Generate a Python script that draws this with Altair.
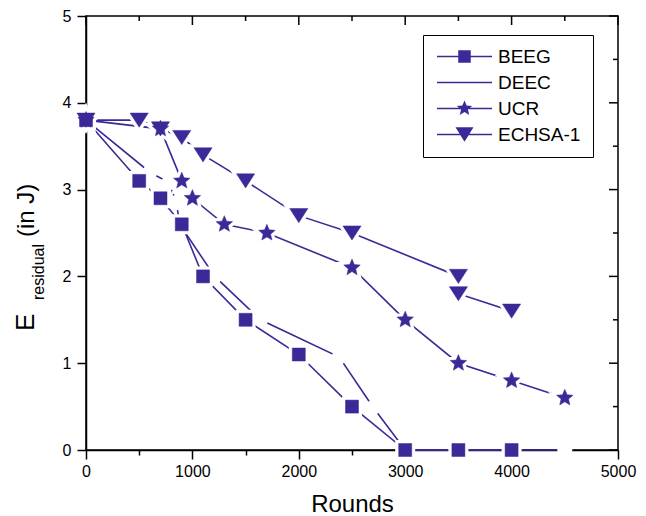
import math
import altair as alt
import pandas as pd

# Residual energy (J) of each protocol against simulation rounds
beeg_rounds = [0, 500, 700, 900, 1100, 1500, 2000, 2500, 3000, 3500, 4000]
beeg_energy = [3.8, 3.1, 2.9, 2.6, 2.0, 1.5, 1.1, 0.5, 0.0, 0.0, 0.0]

deec_rounds = [0, 600, 780, 850, 880, 1210, 1640, 2380, 2700, 3000, 3500, 4000, 4500]
deec_energy = [3.8, 3.2, 3.08, 2.85, 2.6, 2.0, 1.5, 1.07, 0.49, 0.0, 0.0, 0.0, 0.0]

ucr_rounds = [0, 700, 900, 1000, 1300, 1700, 2500, 3000, 3500, 4000, 4500]
ucr_energy = [3.8, 3.7, 3.1, 2.9, 2.6, 2.5, 2.1, 1.5, 1.0, 0.8, 0.6]

echsa_rounds = [0, 500, 700, 900, 1100, 1500, 2000, 2500, 3500, 3500, 4000]
echsa_energy = [3.8, 3.8, 3.7, 3.6, 3.4, 3.1, 2.7, 2.5, 2.0, 1.8, 1.6]

series_names = ["BEEG", "DEEC", "UCR", "ECHSA-1"]
x_ticks = [0, 500, 1000, 1500, 2000, 2500, 3000, 3500, 4000, 4500, 5000]
y_ticks = [0, 0.5, 1, 1.5, 2, 2.5, 3, 3.5, 4, 4.5, 5]

COLOR = "#3C2896"
FONT = "Liberation Sans"

rows = []
for name, xs, ys in [
    ("BEEG", beeg_rounds, beeg_energy),
    ("DEEC", deec_rounds, deec_energy),
    ("UCR", ucr_rounds, ucr_energy),
    ("ECHSA-1", echsa_rounds, echsa_energy),
]:
    for i, (xv, yv) in enumerate(zip(xs, ys)):
        rows.append({"series": name, "rounds": xv, "energy": yv, "idx": i})
df = pd.DataFrame(rows)


# Symbol outlines in Vega's unit square (-1..1)
def star_path(outer=1.0, inner=0.45):
    pts = []
    for k in range(10):
        a = -math.pi / 2 + k * math.pi / 5
        r = outer if k % 2 == 0 else inner
        pts.append(f"{r * math.cos(a):.3f},{r * math.sin(a):.3f}")
    return "M" + "L".join(pts) + "Z"


def tri_down_path(w=1.0, h=0.78):
    return f"M{-w},{-h}L{w},{-h}L0,{h}Z"


STAR = star_path()
TRI = tri_down_path()

# Legend glyphs: a thin bar (the line) with the series symbol in the middle
seg = "M-5.5,-0.16H5.5V0.16H-5.5Z"
legend_paths = [
    seg + "M-1.25,-1.25H1.25V1.25H-1.25Z",
    seg,
    seg + star_path(1.6, 0.72),
    seg + tri_down_path(1.8, 1.45),
]

major_x = "datum.value % 1000 === 0"
major_y = "datum.value % 1 === 0"

x_axis = alt.Axis(
    values=x_ticks,
    format="d",
    labelExpr=f"{major_x} ? datum.label : ''",
    tickSize={"condition": {"test": major_x, "value": 9}, "value": 5},
    tickColor="black",
    tickWidth=1.5,
    domainColor="black",
    domainWidth=1.5,
    labelFont=FONT,
    labelFontSize=16,
    labelColor="black",
    labelPadding=4,
    labelFlush=False,
    labelOverlap=False,
    grid=False,
    title="Rounds",
    titleFont=FONT,
    titleFontSize=24,
    titleFontWeight="normal",
    titleColor="black",
    titlePadding=13,
)
y_axis = alt.Axis(
    values=y_ticks,
    format="d",
    labelExpr=f"{major_y} ? datum.label : ''",
    tickSize={"condition": {"test": major_y, "value": 9}, "value": 5},
    tickColor="black",
    tickWidth=1.5,
    domainColor="black",
    domainWidth=1.5,
    labelFont=FONT,
    labelFontSize=16,
    labelColor="black",
    labelPadding=6,
    labelFlush=False,
    labelOverlap=False,
    grid=False,
    title=None,
)

x_scale = alt.Scale(domain=[0, 5000], nice=False, zero=False)
y_scale = alt.Scale(domain=[0, 5], nice=False, zero=False)


def X(field):
    return alt.X(field, scale=x_scale, axis=x_axis)


def Y(field):
    return alt.Y(field, scale=y_scale, axis=y_axis)


base = alt.Chart(df)


def series_line(name):
    return (
        base.transform_filter(alt.datum.series == name)
        .mark_line(color=COLOR, strokeWidth=1.6)
        .encode(x=X("rounds:Q"), y=Y("energy:Q"), order="idx:Q")
    )


def series_points(name, shape, size, halo=False):
    if halo:
        style = dict(fill="white", stroke="white", strokeWidth=7)
    else:
        style = dict(fill=COLOR, stroke=COLOR, strokeWidth=0.5)
    return (
        base.transform_filter(alt.datum.series == name)
        .mark_point(shape=shape, size=size, filled=True, opacity=1, **style)
        .encode(x=X("rounds:Q"), y=Y("energy:Q"))
    )


# DEEC: plain line broken around its (unmarked) data points
deec_line = series_line("DEEC")
deec_gaps = (
    base.transform_filter(alt.datum.series == "DEEC")
    .mark_point(shape="circle", size=230, filled=True, fill="white", opacity=1)
    .encode(x=X("rounds:Q"), y=Y("energy:Q"))
)

marked = [("BEEG", "square", 169), ("UCR", STAR, 300), ("ECHSA-1", TRI, 330)]
lines = [series_line(n) for n, _, _ in marked]
halos = [series_points(n, s, z, halo=True) for n, s, z in marked]
markers = [series_points(n, s, z) for n, s, z in marked]

legend_layer = (
    base.transform_filter("false")
    .mark_point(filled=True, fill=COLOR, size=100, opacity=1)
    .encode(
        x=X("rounds:Q"),
        y=Y("energy:Q"),
        shape=alt.Shape(
            "series:N",
            scale=alt.Scale(domain=series_names, range=legend_paths),
            legend=alt.Legend(
                title=None,
                orient="none",
                legendX=337,
                legendY=19,
                padding=12,
                strokeColor="black",
                fillColor="white",
                symbolSize=100,
                symbolStrokeWidth=0,
                symbolFillColor=COLOR,
                symbolOpacity=1,
                symbolOffset=20,
                labelOffset=24,
                labelFont=FONT,
                labelFontSize=19,
                labelColor="black",
                rowPadding=6,
            ),
        ),
    )
)

# Mirrored inward ticks along the top and right frame
xt = alt.Chart(pd.DataFrame({"v": x_ticks}))
yt = alt.Chart(pd.DataFrame({"v": y_ticks}))
top_major = xt.transform_filter("datum.v % 1000 === 0").mark_rule(color="black", strokeWidth=1.5).encode(
    x=X("v:Q"), y=alt.value(0), y2=alt.value(9))
top_minor = xt.transform_filter("datum.v % 1000 !== 0").mark_rule(color="black", strokeWidth=1.5).encode(
    x=X("v:Q"), y=alt.value(0), y2=alt.value(5))
right_major = yt.transform_filter("datum.v % 1 === 0").mark_rule(color="black", strokeWidth=1.5).encode(
    y=Y("v:Q"), x=alt.value(523), x2=alt.value(532))
right_minor = yt.transform_filter("datum.v % 1 !== 0").mark_rule(color="black", strokeWidth=1.5).encode(
    y=Y("v:Q"), x=alt.value(527), x2=alt.value(532))

# Y axis title with subscript
one = alt.Chart(pd.DataFrame({"k": [0]}))
title_e = one.mark_text(text="E", angle=270, align="left", baseline="alphabetic",
                        font=FONT, fontSize=26, color="black").encode(x=alt.value(-52), y=alt.value(315))
title_sub = one.mark_text(text="residual", angle=270, align="left", baseline="alphabetic",
                          font=FONT, fontSize=16, color="black").encode(x=alt.value(-42), y=alt.value(284))
title_unit = one.mark_text(text="(in J)", angle=270, align="left", baseline="alphabetic",
                           font=FONT, fontSize=24, color="black").encode(x=alt.value(-52), y=alt.value(221))

chart = (
    alt.layer(
        deec_line, deec_gaps, *lines, *halos, *markers, legend_layer,
        top_major, top_minor, right_major, right_minor,
        title_e, title_sub, title_unit,
    )
    .properties(
        width=532,
        height=434,
        padding={"left": 86, "top": 16, "right": 28, "bottom": 66},
        autosize=alt.AutoSizeParams(type="none"),
        background="white",
    )
    .configure_view(stroke="black", strokeWidth=1.5)
)

chart.save("out.html", embed_options={"renderer": "svg", "actions": False})
